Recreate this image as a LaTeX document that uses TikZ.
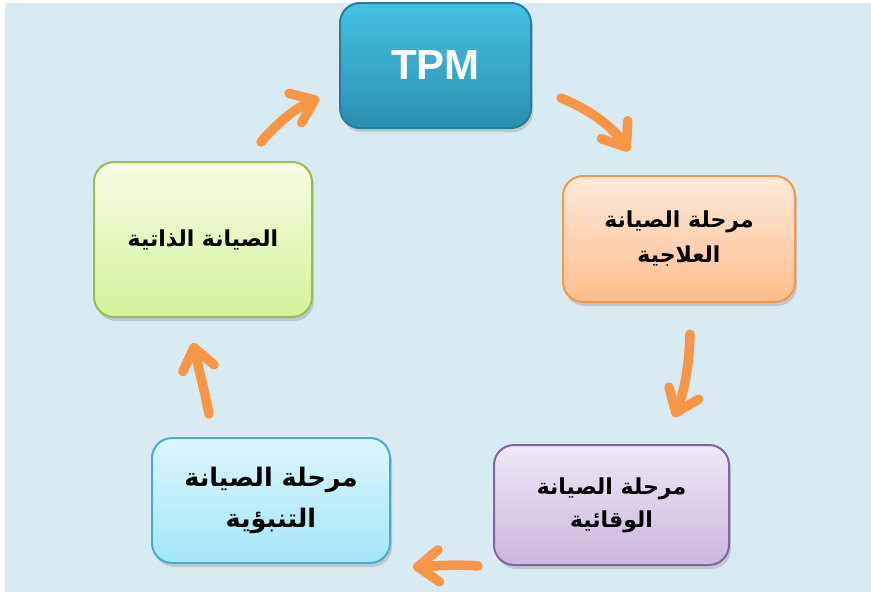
\documentclass[tikz,border=0pt]{standalone}
\usepackage{fontspec}
\setmainfont{Liberation Sans}
\newfontfamily\arabicfont[Script=Arabic]{DejaVu Sans}
\TeXXeTstate=1
\usetikzlibrary{arrows.meta,shadows}

\definecolor{bgblue}{HTML}{D9EBF2}
\definecolor{arroworange}{HTML}{F79646}
\definecolor{tpmtop}{HTML}{44C2E5}
\definecolor{tpmbot}{HTML}{2A90AE}
\definecolor{tpmedge}{HTML}{237F9A}
\definecolor{ortop}{HTML}{FFEADC}
\definecolor{orbot}{HTML}{FCBE8C}
\definecolor{oredge}{HTML}{F79646}
\definecolor{putop}{HTML}{EFE8F5}
\definecolor{pubot}{HTML}{CAB7DB}
\definecolor{puedge}{HTML}{8064A2}
\definecolor{bltop}{HTML}{DCF6FD}
\definecolor{blbot}{HTML}{A4E5FA}
\definecolor{bledge}{HTML}{4BACC6}
\definecolor{grtop}{HTML}{F6FCE4}
\definecolor{grbot}{HTML}{D5F29A}
\definecolor{gredge}{HTML}{9BBB59}

\tikzset{
  stagebox/.style={rounded corners=20pt, line width=2pt, align=center,
    inner sep=0pt, text=black,
    drop shadow={shadow xshift=2pt, shadow yshift=-4pt, opacity=0.25, fill=black!60}},
  cyclearrow/.style={draw=arroworange, line width=9.5pt, line cap=round, line join=round,
    -{Straight Barb[length=21pt, width=32pt, line cap=round, line join=round]},
    preaction={draw=black!60, opacity=0.18, transform canvas={shift={(2pt,-3pt)}}}}
}

\begin{document}
\begin{tikzpicture}[x=1pt,y=-1pt]
  % page and backdrop
  \fill[white] (0,0) rectangle (871,592);
  \fill[bgblue] (5,3) rectangle (871,592);
  \useasboundingbox (0,0) rectangle (871,592);

  % central TPM box
  \node[stagebox, minimum width=191pt, minimum height=125pt,
        top color=tpmtop, bottom color=tpmbot, draw=tpmedge,
        font=\fontsize{42}{48}\selectfont\bfseries, text=white]
    (tpm) at (435.5,65.5) {TPM};

  % the four stages
  \node[stagebox, minimum width=232pt, minimum height=126pt,
        top color=ortop, bottom color=orbot, draw=oredge,
        font=\arabicfont\bfseries\fontsize{22}{35}\selectfont]
    (corrective) at (679,239)
    {\beginR مرحلة الصيانة\endR\\\beginR العلاجية\endR};

  \node[stagebox, minimum width=235pt, minimum height=120pt,
        top color=putop, bottom color=pubot, draw=puedge,
        font=\arabicfont\bfseries\fontsize{22}{33}\selectfont]
    (preventive) at (611.5,505)
    {\beginR مرحلة الصيانة\endR\\\beginR الوقائية\endR};

  \node[stagebox, minimum width=238pt, minimum height=125pt,
        top color=bltop, bottom color=blbot, draw=bledge,
        font=\arabicfont\bfseries\fontsize{25.5}{41}\selectfont]
    (predictive) at (271,500.5)
    {\beginR مرحلة الصيانة\endR\\\beginR التنبؤية\endR};

  \node[stagebox, minimum width=218pt, minimum height=155pt,
        top color=grtop, bottom color=grbot, draw=gredge,
        font=\arabicfont\bfseries\fontsize{22}{34}\selectfont]
    (autonomous) at (203,239.5)
    {\beginR الصيانة الذاتية\endR};

  % arrow end points
  \coordinate (a1s) at (561,98);  \coordinate (a1e) at (629,151);
  \coordinate (a2s) at (690,334); \coordinate (a2e) at (674,417);
  \coordinate (a3s) at (478,566); \coordinate (a3e) at (413,567);
  \coordinate (a4s) at (209,414); \coordinate (a4e) at (193,343);
  \coordinate (a5s) at (261,142); \coordinate (a5e) at (319,98);

  % cycle arrows
  \draw[cyclearrow] (a1s) .. controls (590,110) and (612,126) .. (a1e);
  \draw[cyclearrow] (a2s) .. controls (689,370) and (683,395) .. (a2e);
  \draw[cyclearrow] (a3s) .. controls (455,564) and (435,566) .. (a3e);
  \draw[cyclearrow] (a4s) .. controls (204,388) and (198,366) .. (a4e);
  \draw[cyclearrow] (a5s) .. controls (280,120) and (298,107) .. (a5e);
\end{tikzpicture}
\end{document}
